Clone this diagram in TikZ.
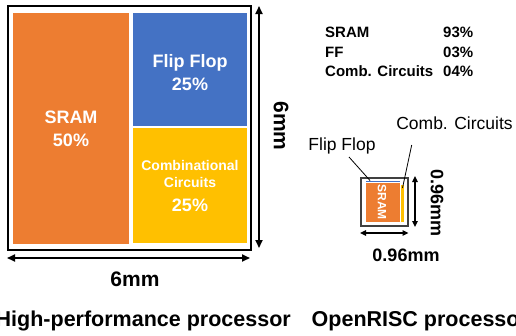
\documentclass[tikz,border=0pt]{standalone}
\usepackage{fontspec}
\setmainfont{Liberation Sans}
\usetikzlibrary{arrows.meta}
\definecolor{sramorange}{HTML}{ED7D31}
\definecolor{ffblue}{HTML}{4472C4}
\definecolor{combyellow}{HTML}{FFC000}
\begin{document}
\begin{tikzpicture}[x=1pt,y=-1pt,
  bigdim/.style={{Triangle[length=8pt,width=7pt]}-{Triangle[length=8pt,width=7pt]}, line width=1.8pt},
  smalldim/.style={{Triangle[length=6pt,width=5.5pt]}-{Triangle[length=6pt,width=5.5pt]}, line width=1.4pt},
  blocktext/.style={text=white, font=\bfseries\fontsize{18}{23.5}\selectfont, align=center, inner sep=0pt},
  dimtext/.style={font=\bfseries\fontsize{21}{24}\selectfont, inner sep=0pt},
  smalldimtext/.style={font=\bfseries\fontsize{18}{20}\selectfont, inner sep=0pt},
  tabtext/.style={font=\bfseries\fontsize{15}{18}\selectfont, inner sep=0pt, anchor=base west},
  calltext/.style={font=\fontsize{17.5}{20}\selectfont, inner sep=0pt},
  leader/.style={line width=0.8pt},
  titletext/.style={font=\bfseries\fontsize{21.5}{24}\selectfont, inner sep=0pt}]
\useasboundingbox (0,0) rectangle (516,335);

% ---------- 6mm x 6mm high-performance die ----------
\draw[line width=1.2pt] (8,6) rectangle (251,250);
\fill[sramorange] (13,13) rectangle (129,244);
\fill[ffblue] (133,13) rectangle (247,126);
\fill[combyellow] (133,128) rectangle (247,243);

\node[blocktext] (sram) at (71,129) {SRAM\\50\%};
\node[blocktext] (ff) at (190,72.5) {Flip Flop\\25\%};
\node[blocktext, font=\bfseries\fontsize{14}{17.3}\selectfont] (comb) at (190,174) {Combinational\\Circuits};
\node[blocktext] (combpct) at (190,205.5) {25\%};

\coordinate (vtop) at (259,6);
\coordinate (vbot) at (259,248);
\coordinate (hleft) at (7,258);
\coordinate (hright) at (250,258);
\draw[bigdim] (vtop) -- (vbot);
\draw[bigdim] (hleft) -- (hright);
\node[dimtext] (wbig) at (135,279) {6mm};
\node[dimtext, rotate=-90] (hbig) at (281,126) {6mm};

% ---------- area table ----------
\node[tabtext] (t1a) at (325,37.5) {SRAM};
\node[tabtext] (t1b) at (443,37.5) {93\%};
\node[tabtext] (t2a) at (325,57) {FF};
\node[tabtext] (t2b) at (443,57) {03\%};
\node[tabtext] (t3a) at (325,76) {Comb. Circuits};
\node[tabtext] (t3b) at (443,76) {04\%};

% ---------- 0.96mm x 0.96mm OpenRISC die ----------
\draw[line width=1.2pt, black!75] (361,178) rectangle (408,226);
\fill[sramorange] (365.5,182.5) rectangle (400,222);
\fill[ffblue] (365.5,180.6) rectangle (400,182.3);
\fill[combyellow] (400.7,185) rectangle (403.6,222);
\node[text=white, font=\bfseries\fontsize{12}{14}\selectfont, rotate=-90, inner sep=0pt] (sramsmall) at (382,202) {SRAM};

\node[calltext] (fflabel) at (342,146) {Flip Flop};
\node[calltext] (comblabel) at (454.5,123) {Comb. Circuits};
\coordinate (ffpt) at (370,180.5);
\coordinate (combpt) at (402.5,188);
\draw[leader] (349,157) -- (ffpt);
\draw[leader] (411.7,145) -- (combpt);

\coordinate (svtop) at (415,176);
\coordinate (svbot) at (415,227);
\coordinate (shleft) at (360,233);
\coordinate (shright) at (408.5,233);
\draw[smalldim] (svtop) -- (svbot);
\draw[smalldim] (shleft) -- (shright);
\node[smalldimtext] (wsmall) at (406,255) {0.96mm};
\node[smalldimtext, rotate=-90] (hsmall) at (437,203) {0.96mm};

% ---------- captions ----------
\node[titletext, anchor=base east] (cap1) at (291,326) {High-performance processor};
\node[titletext, anchor=base west] (cap2) at (311.5,326) {OpenRISC processor};
\end{tikzpicture}
\end{document}
